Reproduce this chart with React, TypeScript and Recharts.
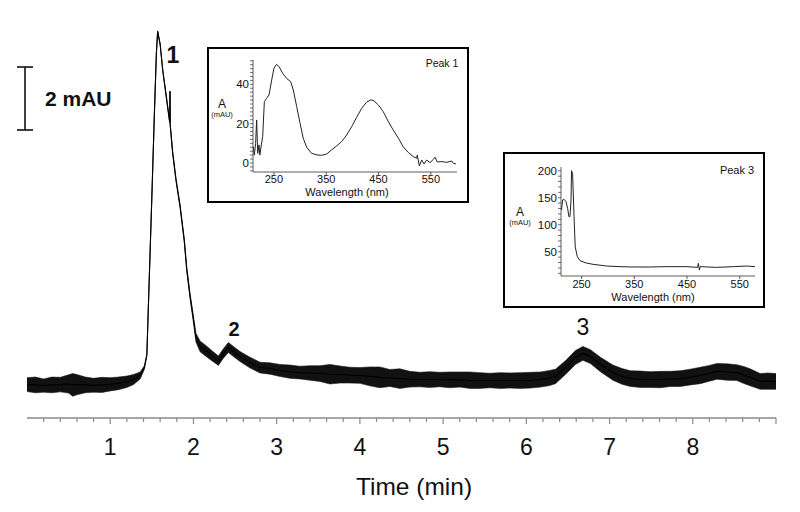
import { ComposedChart, LineChart, Line, Area, XAxis, YAxis } from 'recharts';

const FONT = '"Liberation Sans", Arial, Helvetica, sans-serif';

// chromatogram: retention time (min) and absorbance (mAU) along the centre of the trace
const runTime = [
  0, 0.1, 0.2, 0.3, 0.4, 0.5, 0.55, 0.6, 0.7, 0.8, 0.9, 1.0, 1.1, 1.2,
  1.28, 1.36, 1.41, 1.44, 1.47, 1.5, 1.53, 1.555, 1.57, 1.6, 1.63, 1.67, 1.71, 1.715, 1.718, 1.721, 1.75, 1.79, 1.84, 1.89, 1.92, 1.96, 2.0, 2.03,
  2.08, 2.16, 2.22, 2.3, 2.36, 2.42, 2.48, 2.56, 2.68, 2.8, 2.92, 3.04, 3.16, 3.28, 3.4, 3.52, 3.64, 3.76, 3.88, 4.0, 4.12, 4.24, 4.36, 4.48, 4.6, 4.72, 4.84, 4.96, 5.08, 5.2, 5.32, 5.44, 5.56, 5.69, 5.8, 5.93, 6.05, 6.17,
  6.28, 6.35, 6.47, 6.59, 6.68, 6.77, 6.89, 7.04, 7.15, 7.25, 7.37, 7.49, 7.61, 7.73, 7.85, 7.97, 8.09, 8.2, 8.29, 8.41, 8.53, 8.62, 8.69, 8.81, 8.9, 9.0,
];
const absorbance = [
  0.06, 0.05, 0.03, 0.05, 0.06, 0.08, 0.05, 0.06, 0.05, 0.04, 0.05, 0.07, 0.1, 0.15,
  0.22, 0.35, 0.6, 1.0, 3.5, 6.0, 8.6, 10.6, 11.27, 10.86, 10.06, 9.27, 8.48, 8.4, 9.37, 8.3, 7.43, 6.57, 5.71, 4.63, 3.71, 2.86, 2.13, 1.55,
  1.27, 1.11, 0.98, 0.82, 1.05, 1.24, 1.11, 0.95, 0.76, 0.6, 0.57, 0.51, 0.47, 0.44, 0.43, 0.41, 0.39, 0.38, 0.36, 0.35, 0.32, 0.29, 0.27, 0.25, 0.23, 0.22, 0.22, 0.22, 0.21, 0.22, 0.2, 0.19, 0.19, 0.19, 0.19, 0.19, 0.2, 0.22,
  0.27, 0.32, 0.6, 0.92, 1.05, 0.95, 0.7, 0.44, 0.32, 0.25, 0.23, 0.22, 0.22, 0.24, 0.25, 0.3, 0.35, 0.42, 0.48, 0.46, 0.44, 0.36, 0.29, 0.16, 0.17, 0.16,
];
// half height of the detector noise band around the trace (mAU)
const noiseHalf = [
  0.22, 0.25, 0.21, 0.25, 0.23, 0.29, 0.36, 0.32, 0.25, 0.22, 0.24, 0.21, 0.2, 0.18,
  0.16, 0.11, 0.06, 0.03, 0.02, 0.02, 0.02, 0.02, 0.02, 0.02, 0.02, 0.03, 0.03, 0.03, 0, 0.03, 0.04, 0.05, 0.05, 0.06, 0.07, 0.09, 0.11, 0.14,
  0.17, 0.17, 0.16, 0.15, 0.15, 0.16, 0.16, 0.16, 0.17, 0.17, 0.18, 0.19, 0.21, 0.2, 0.23, 0.25, 0.31, 0.27, 0.25, 0.25, 0.3, 0.33, 0.27, 0.31, 0.25, 0.23, 0.25, 0.23, 0.25, 0.24, 0.26, 0.25, 0.23, 0.25, 0.24, 0.25, 0.25, 0.24,
  0.24, 0.23, 0.22, 0.22, 0.22, 0.22, 0.23, 0.24, 0.25, 0.25, 0.26, 0.25, 0.26, 0.24, 0.25, 0.25, 0.26, 0.25, 0.25, 0.26, 0.25, 0.27, 0.27, 0.25, 0.26, 0.25,
];
const timeLabels = [1, 2, 3, 4, 5, 6, 7, 8];

// UV-vis spectrum of peak 1
const peak1Nm = [
  210.6, 212.5, 215, 217, 219, 221.5, 223, 226, 228.5, 231.7, 236, 240.6, 245.7, 250, 255, 260, 266.7, 274, 282, 287, 293.5,
  300, 306, 312.6, 322, 331.7, 341, 351, 360, 370, 379.5, 389, 398.7, 408, 417.8, 427, 435, 441, 449.6, 459, 468.8,
  478, 488, 497, 507, 516.6, 523, 524, 528, 532.5, 537, 542, 548.4, 555, 558, 562.4, 570.7, 580, 590, 593, 598,
];
const peak1Abs = [
  8.3, 4, 10, 21.9, 4.9, 9.2, 4, 9.2, 13.4, 31.2, 32.9, 34.6, 42.2, 48.2, 50.2, 49, 45.6, 43.1, 41.4, 37.2, 28.7,
  20.2, 12.6, 8, 4.9, 4.1, 3.9, 4.6, 6.6, 8.7, 10.9, 14.2, 18.5, 23.2, 27.8, 30.9, 32.1, 31.7, 29.5, 26.1, 21,
  16.8, 12.6, 8.3, 5.3, 3.2, 2.4, 4, -1.5, 1.5, -0.5, 1.5, 0.2, 1.9, 2.9, 0.5, 0.7, 0.3, 1, -0.2, -0.5,
];

// UV-vis spectrum of peak 3
const peak3Nm = [
  212, 214, 217, 220.5, 223.6, 226, 228, 230, 231, 233, 235.7, 238, 242, 247, 256.5,
  272, 297.7, 323, 348, 380, 411.5, 449.5, 470, 471.6, 473.5, 475, 506, 538, 563, 579,
];
const peak3Abs = [
  127, 145.7, 147, 142.7, 130, 115, 115, 145.7, 200, 195, 115, 59, 40.7, 33.4, 29.7,
  26.6, 23.5, 22.3, 21.7, 21.7, 22.3, 22.3, 21, 28.5, 16, 22.3, 21, 22.3, 23.5, 22.3,
];

const wavelengthLabels = [250, 350, 450, 550];
const peak1AbsLabels = [0, 20, 40];
const peak3AbsLabels = [50, 100, 150, 200];

const traceRows = runTime.map((t, i) => ({
  t,
  v: absorbance[i],
  band: [absorbance[i] - noiseHalf[i], absorbance[i] + noiseHalf[i]],
}));
const peak1Rows = peak1Nm.map((nm, i) => ({ nm, a: peak1Abs[i] }));
const peak3Rows = peak3Nm.map((nm, i) => ({ nm, a: peak3Abs[i] }));

// minor ticks every 0.2 min
const timeTicks = Array.from({ length: 45 }, (_, i) => Math.round((i + 1) * 2) / 10);
const peak1YTicks = Array.from({ length: 29 }, (_, i) => -4 + i * 2);
const peak3YTicks = Array.from({ length: 20 }, (_, i) => 10 + i * 10);

function TimeTick(props: any) {
  const { x, y, payload } = props;
  const v = payload.value;
  const major = Math.abs(v - Math.round(v)) < 0.001;
  return (
    <g>
      <line x1={x} x2={x} y1={y} y2={y + (major ? 6 : 4)} stroke="#8a8a8a" strokeWidth={1.2} />
      {major && timeLabels.includes(Math.round(v)) && (
        <text x={x} y={y + 37} textAnchor="middle" fontSize={23} fontFamily={FONT} fill="#111">
          {Math.round(v)}
        </text>
      )}
    </g>
  );
}

function makeYTick(labels: number[]) {
  return (props: any) => {
    const { x, y, payload } = props;
    const v = payload.value;
    return (
      <g>
        <line x1={x - 3} x2={x} y1={y} y2={y} stroke="#333" strokeWidth={0.7} />
        {labels.includes(v) && (
          <text x={x - 4} y={y + 4} textAnchor="end" fontSize={11.5} fontFamily={FONT} fill="#111">
            {v}
          </text>
        )}
      </g>
    );
  };
}

function makeXTick(offset: number) {
  return (props: any) => {
    const { x, y, payload } = props;
    return (
      <g>
        <line x1={x} x2={x} y1={y} y2={y + 3} stroke="#333" strokeWidth={0.8} />
        <text x={x} y={y + offset} textAnchor="middle" fontSize={11} fontFamily={FONT} fill="#111">
          {payload.value}
        </text>
      </g>
    );
  };
}

function Inset(props: any) {
  const { left, top, rows, xDomain, yDomain, yTicks, yLabels, yWidth, xHeight, mTop, mRight, labelOffset } = props;
  return (
    <div
      style={{
        position: 'absolute',
        left,
        top,
        width: 262,
        height: 156,
        border: '2px solid #000',
        boxSizing: 'border-box',
        background: '#fff',
      }}
    >
      <LineChart width={258} height={152} data={rows} margin={{ top: mTop, right: mRight, bottom: 0, left: 0 }}>
        <XAxis
          type="number"
          dataKey="nm"
          domain={xDomain}
          ticks={wavelengthLabels}
          interval={0}
          tickSize={0}
          tickMargin={0}
          tickLine={false}
          height={xHeight}
          axisLine={{ stroke: '#333', strokeWidth: 0.8 }}
          tick={makeXTick(labelOffset)}
          allowDataOverflow
        />
        <YAxis
          type="number"
          domain={yDomain}
          ticks={yTicks}
          interval={0}
          tickSize={0}
          tickMargin={0}
          tickLine={false}
          width={yWidth}
          axisLine={{ stroke: '#333', strokeWidth: 0.8 }}
          tick={makeYTick(yLabels)}
          allowDataOverflow
        />
        <Line type="linear" dataKey="a" stroke="#222" strokeWidth={1} dot={false} activeDot={false} isAnimationActive={false} />
      </LineChart>
    </div>
  );
}

export default function App() {
  const txt = { fontFamily: FONT, fill: '#111' };
  return (
    <div style={{ position: 'absolute', left: 0, top: 0, width: 800, height: 512, background: '#fff' }}>
      <ComposedChart width={800} height={512} data={traceRows} margin={{ top: 21, right: 24, bottom: 64, left: 27 }}>
        <XAxis
          type="number"
          dataKey="t"
          domain={[0, 9]}
          ticks={timeTicks}
          interval={0}
          tickSize={0}
          tickMargin={0}
          tickLine={false}
          height={30}
          axisLine={{ stroke: '#8a8a8a', strokeWidth: 1.4 }}
          tick={(p: any) => <TimeTick {...p} />}
          allowDataOverflow
        />
        <YAxis hide domain={[-1, 11.6]} allowDataOverflow />
        <Area
          type="linear"
          dataKey="band"
          stroke="#1a1a1a"
          strokeWidth={0.6}
          fill="#111"
          fillOpacity={1}
          dot={false}
          activeDot={false}
          isAnimationActive={false}
        />
        <Line type="linear" dataKey="v" stroke="#000" strokeWidth={1.1} dot={false} activeDot={false} isAnimationActive={false} />
      </ComposedChart>

      <Inset
        left={207}
        top={47}
        rows={peak1Rows}
        xDomain={[210, 600]}
        yDomain={[-4.6, 52.4]}
        yTicks={peak1YTicks}
        yLabels={peak1AbsLabels}
        yWidth={44}
        xHeight={29}
        mTop={11}
        mRight={10}
        labelOffset={11}
      />
      <Inset
        left={503}
        top={152}
        rows={peak3Rows}
        xDomain={[211, 579]}
        yDomain={[5, 207]}
        yTicks={peak3YTicks}
        yLabels={peak3AbsLabels}
        yWidth={56}
        xHeight={30}
        mTop={13}
        mRight={8}
        labelOffset={11.5}
      />

      <svg width={800} height={512} style={{ position: 'absolute', left: 0, top: 0, pointerEvents: 'none' }}>
        {/* 2 mAU scale bar */}
        <line x1={25} x2={25} y1={67} y2={130} stroke="#111" strokeWidth={1.6} />
        <line x1={17} x2={33} y1={67} y2={67} stroke="#111" strokeWidth={1.6} />
        <line x1={17} x2={33} y1={130} y2={130} stroke="#111" strokeWidth={1.6} />
        <text x={45} y={106} fontSize={21} fontWeight="bold" {...txt}>2 mAU</text>

        <text x={173} y={63} fontSize={23} fontWeight="bold" textAnchor="middle" {...txt}>1</text>
        <text x={234} y={336} fontSize={20} fontWeight="bold" textAnchor="middle" {...txt}>2</text>
        <text x={583} y={335} fontSize={23} textAnchor="middle" {...txt}>3</text>

        <text x={414} y={495} fontSize={24.5} textAnchor="middle" {...txt}>Time (min)</text>

        <text x={222} y={108} fontSize={12} textAnchor="middle" {...txt}>A</text>
        <text x={222} y={116.5} fontSize={7.5} textAnchor="middle" {...txt}>(mAU)</text>
        <text x={347} y={195.5} fontSize={11} textAnchor="middle" {...txt}>Wavelength (nm)</text>
        <text x={442} y={66.5} fontSize={10.5} textAnchor="middle" {...txt}>Peak 1</text>

        <text x={520} y={216} fontSize={12} textAnchor="middle" {...txt}>A</text>
        <text x={520} y={224.5} fontSize={7.5} textAnchor="middle" {...txt}>(mAU)</text>
        <text x={653} y={300.5} fontSize={11} textAnchor="middle" {...txt}>Wavelength (nm)</text>
        <text x={737} y={174} fontSize={11} textAnchor="middle" {...txt}>Peak 3</text>
      </svg>
    </div>
  );
}
